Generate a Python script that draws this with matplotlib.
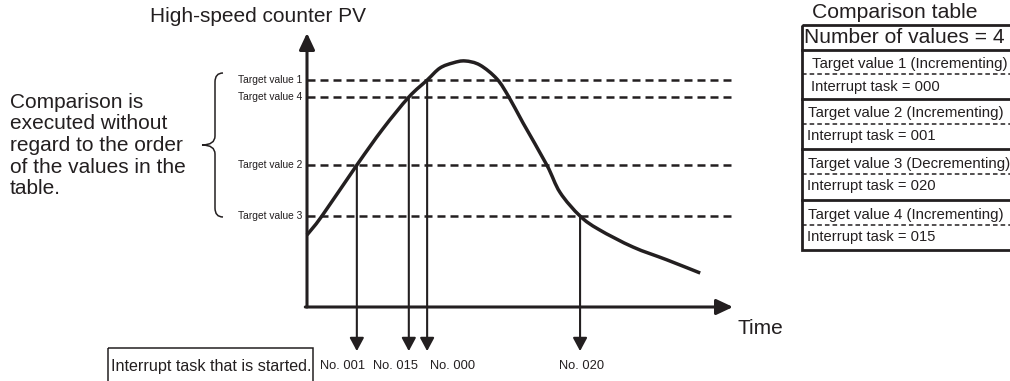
import matplotlib
matplotlib.use("Agg")
import matplotlib.pyplot as plt
from matplotlib.path import Path
from matplotlib.patches import PathPatch, Rectangle

plt.rcParams['font.family'] = ['Liberation Sans', 'DejaVu Sans']

INK = '#231f20'

# target values in the comparison table (PV in % of the axis height)
target_names = ['Target value 1', 'Target value 2', 'Target value 3', 'Target value 4']
target_levels = [82.8, 51.8, 33.2, 76.6]
target_dirs = ['Incrementing', 'Incrementing', 'Decrementing', 'Incrementing']
target_tasks = ['000', '001', '020', '015']

# high-speed counter PV over time
curve_t = [0, 3.5, 11.7, 17.8, 23.9, 28.2, 31.2, 34.3, 37.1, 40.6, 44.6,
           47.4, 50.7, 56.3, 59.4, 64.1, 68.5, 76.5, 84.5, 92.3]
curve_pv = [26.3, 33.2, 51.8, 65.0, 76.6, 82.8, 87.2, 89.1, 89.8, 88.3, 83.2,
            76.6, 67.2, 51.8, 41.8, 33.2, 28.3, 21.9, 17.2, 12.4]

# times at which each target is reached (order of the interrupts)
hit_t = [11.7, 23.9, 28.2, 64.1]
hit_task = ['001', '015', '000', '020']
hit_target = [1, 3, 0, 2]   # index into target_levels

W, H = 1010, 381
fig = plt.figure(figsize=(W / 100, H / 100), dpi=100)

# overlay in pixel coordinates for the annotations
ax0 = fig.add_axes([0, 0, 1, 1])
ax0.set_xlim(0, W)
ax0.set_ylim(H, 0)
ax0.axis('off')

# chart area: origin at pixel (307, 307), top 33, right 733
x0, y0, x1, y1 = 307, 307, 733, 33
ax = fig.add_axes([x0 / W, (H - y0) / H, (x1 - x0) / W, (y0 - y1) / H])
ax.set_xlim(0, 100)
ax.set_ylim(0, 100)
ax.axis('off')

arrow_big = dict(arrowstyle='-|>,head_length=1.0,head_width=0.47',
                 mutation_scale=10, lw=2.2, color=INK, shrinkA=0, shrinkB=0)
ax.annotate('', xy=(0, 100), xytext=(0, 0), annotation_clip=False, arrowprops=arrow_big)
ax.annotate('', xy=(100, 0), xytext=(-0.4, 0), annotation_clip=False, arrowprops=arrow_big)

# dashed target lines + labels
for name, lev in zip(target_names, target_levels):
    ax.plot([0, 100.5], [lev, lev], color=INK, lw=1.8,
            linestyle=(0, (3.2, 2.0)), clip_on=False)
    ax.annotate(name, xy=(0, lev), xytext=(-3.6, 0), textcoords='offset points',
                ha='right', va='center', fontsize=7.4, color=INK)


# PV curve, drawn as a smooth bezier path through the read points
def smooth_path(xs, ys):
    pts = list(zip(xs, ys))
    verts = [pts[0]]
    codes = [Path.MOVETO]
    n = len(pts)
    for i in range(n - 1):
        p0 = pts[max(i - 1, 0)]
        p1 = pts[i]
        p2 = pts[i + 1]
        p3 = pts[min(i + 2, n - 1)]
        c1 = (p1[0] + (p2[0] - p0[0]) / 6, p1[1] + (p2[1] - p0[1]) / 6)
        c2 = (p2[0] - (p3[0] - p1[0]) / 6, p2[1] - (p3[1] - p1[1]) / 6)
        verts += [c1, c2, p2]
        codes += [Path.CURVE4] * 3
    return Path(verts, codes)


ax.add_patch(PathPatch(smooth_path(curve_t, curve_pv), fill=False, lw=2.5,
                       edgecolor=INK, capstyle='butt', joinstyle='round', clip_on=False))

# drop lines to the interrupt tasks
arrow_small = dict(arrowstyle='-|>,head_length=0.8,head_width=0.43',
                   mutation_scale=10, lw=1.5, color=INK, shrinkA=0, shrinkB=0)
for t, k in zip(hit_t, hit_target):
    ax.annotate('', xy=(t, -16.1), xytext=(t, target_levels[k]), annotation_clip=False,
                arrowprops=arrow_small)

no_x_px = [320, 373, 430, 559]
for xp, task in zip(no_x_px, hit_task):
    ax0.text(xp, 366, 'No. ' + task, ha='left', va='center', fontsize=9.25, color=INK)

ax0.text(258, 17, 'High-speed counter PV', ha='center', va='center', fontsize=15, color=INK)
ax0.text(737, 328, 'Time', ha='left', va='center', fontsize=15, color=INK)

# left note with brace
note = ['Comparison is', 'executed without', 'regard to the order',
        'of the values in the', 'table.']
for i, line in enumerate(note):
    ax0.text(10, 102 + 21.7 * i, line, ha='left', va='center', fontsize=15, color=INK)

verts = [(223, 73), (215, 73), (215, 82),
         (215, 136),
         (215, 145), (202, 145),
         (215, 145), (215, 154),
         (215, 208),
         (215, 217), (223, 217)]
codes = [Path.MOVETO, Path.CURVE3, Path.CURVE3,
         Path.LINETO,
         Path.CURVE3, Path.CURVE3,
         Path.CURVE3, Path.CURVE3,
         Path.LINETO,
         Path.CURVE3, Path.CURVE3]
ax0.add_patch(PathPatch(Path(verts, codes), fill=False, lw=1.1, edgecolor=INK))

# interrupt task box
ax0.add_patch(Rectangle((108, 348), 205, 40, fill=False, lw=1.1, edgecolor=INK))
ax0.text(111, 367, 'Interrupt task that is started.', ha='left', va='center',
         fontsize=11.6, color=INK)

# comparison table
ax0.text(895, 12, 'Comparison table', ha='center', va='center', fontsize=15.2, color=INK)
tl, tr = 802, 1016
ax0.add_patch(Rectangle((tl, 25), tr - tl, 225, fill=False, lw=2.0, edgecolor=INK))
ax0.plot([tl, tr], [50, 50], color=INK, lw=2.0)
ax0.text(804, 37.5, 'Number of values = %d' % len(target_names), ha='left', va='center',
         fontsize=15.1, color=INK)
row_top = [50, 99, 149, 200]
row_h = [49, 50, 51, 50]
indent = [812, 808, 808, 808]
for i, (name, d, task) in enumerate(zip(target_names, target_dirs, target_tasks)):
    top = row_top[i]
    dash_y = top + row_h[i] * 0.49
    if i > 0:
        ax0.plot([tl, tr], [top, top], color=INK, lw=2.0)
    ax0.plot([tl, tr], [dash_y, dash_y], color=INK, lw=1.1, linestyle=(0, (3, 2)))
    ax0.text(indent[i], dash_y - 10, '%s (%s)' % (name, d), ha='left', va='center',
             fontsize=10.8, color=INK)
    ax0.text(indent[i] - 1, dash_y + 12.5, 'Interrupt task = ' + task, ha='left',
             va='center', fontsize=10.6, color=INK)

fig.savefig('out.png', dpi=100)
